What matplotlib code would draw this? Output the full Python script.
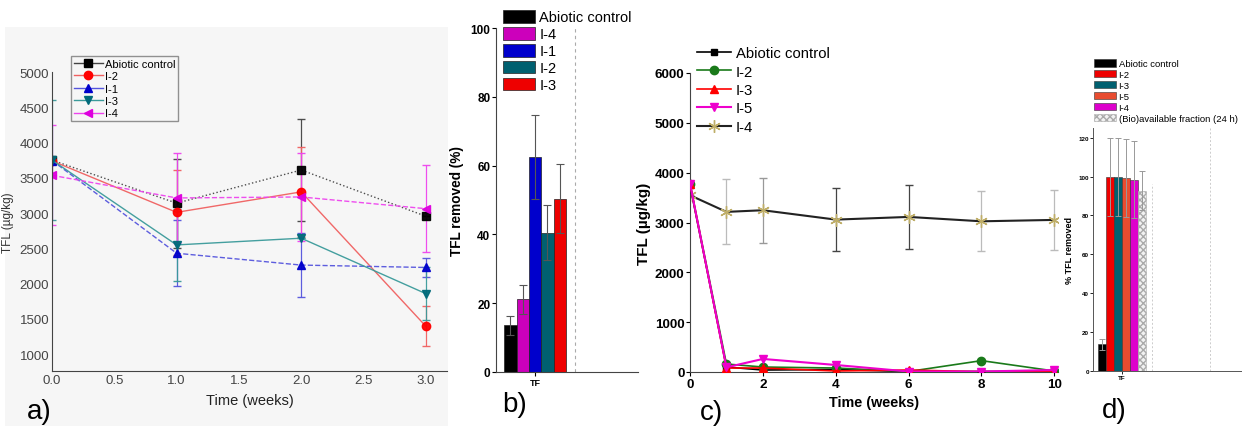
import matplotlib
matplotlib.use("Agg")
import matplotlib.pyplot as plt
from matplotlib.patches import Rectangle, Patch
from matplotlib.lines import Line2D
import numpy as np

plt.rcParams["font.family"] = ["Liberation Sans", "DejaVu Sans"]

# ---------------- Panel a data ----------------
a_time = [0.0, 1.0, 2.0, 3.0]
a_labels = ["Abiotic control", "I-2", "I-1", "I-3", "I-4"]
a_abiotic = [3750, 3140, 3610, 2955]
a_abiotic_err = [0, 630, 725, 0]
a_i2 = [3740, 3010, 3300, 1395]
a_i2_err = [0, 600, 640, 280]
a_i1 = [3745, 2430, 2262, 2228]
a_i1_err = [0, 470, 450, 130]
a_i3 = [3750, 2548, 2643, 1857]
a_i3_err = [850, 515, 0, 380]
a_i4 = [3535, 3214, 3228, 3062]
a_i4_err = [710, 640, 620, 620]

# ---------------- Panel b data ----------------
b_labels = ["Abiotic control", "I-4", "I-1", "I-2", "I-3"]
b_values = [13.6, 21.2, 62.5, 40.5, 50.4]
b_errors = [2.8, 4.2, 12.3, 8.0, 10.1]
b_category = "TF"

# ---------------- Panel c data ----------------
c_time = [0, 1, 2, 4, 6, 8, 10]
c_labels = ["Abiotic control", "I-2", "I-3", "I-5", "I-4"]
c_abiotic = [3750, 100, 40, 50, 10, 10, 10]
c_i2 = [3780, 160, 100, 80, 10, 228, 20]
c_i3 = [3780, 80, 80, 20, 40, 5, 10]
c_i5 = [3780, 94, 262, 141, 10, 10, 40]
c_i4 = [3547, 3213, 3246, 3058, 3112, 3024, 3052]
c_i4_err = [0, 650, 650, 625, 650, 605, 610]

# ---------------- Panel d data ----------------
d_labels = ["Abiotic control", "I-2", "I-3", "I-5", "I-4", "(Bio)available fraction (24 h)"]
d_values = [13.7, 99.7, 99.7, 99.3, 98.5, 92.8]
d_errors = [3.0, 20.0, 20.0, 20.0, 20.0, 10.0]
d_category = "TF"

W, H = 1242, 427
fig = plt.figure(figsize=(W / 100, H / 100), dpi=100, facecolor="white")

def rect(l, r, t, b):
    return [l / W, 1 - b / H, (r - l) / W, (b - t) / H]

# light background behind panel a
fig.patches.append(Rectangle((5 / W, 0), 443 / W, 1 - 28 / H, transform=fig.transFigure,
                             facecolor="#f6f6f6", edgecolor="none", zorder=-10))

# ================= Panel a =================
ax = fig.add_axes(rect(52, 447, 73, 372))
ax.set_facecolor("none")
series_a = [
    (a_abiotic, a_abiotic_err, "#444444", "s", ":", "black"),
    (a_i2, a_i2_err, "#f06060", "o", "-", "red"),
    (a_i1, a_i1_err, "#5555dd", "^", "--", "#0000cc"),
    (a_i3, a_i3_err, "#3a9a9a", "v", "-", "#006a7a"),
    (a_i4, a_i4_err, "#ee44ee", "<", "--", "#dd00dd"),
]
a_handles = []
for (vals, errs, lc, mk, ls, mc), lab in zip(series_a, a_labels):
    ax.errorbar(a_time, vals, yerr=errs, color=lc, marker=mk, ls=ls, lw=1.0,
                ms=6, mfc=mc, mec=mc, ecolor=lc, elinewidth=0.9, capsize=3,
                alpha=0.95)
    a_handles.append(Line2D([], [], color=lc, marker=mk, ls="-", lw=1.0, ms=6,
                            mfc=mc, mec=mc))
ax.set_xlim(0, 3.17)
ax.set_ylim(760, 5000)
ax.set_xticks([0.0, 0.5, 1.0, 1.5, 2.0, 2.5, 3.0])
ax.set_xticklabels(["0.0", "0.5", "1.0", "1.5", "2.0", "2.5", "3.0"])
ax.set_yticks([1000, 1500, 2000, 2500, 3000, 3500, 4000, 4500, 5000])
for s in ["top", "right"]:
    ax.spines[s].set_visible(False)
for s in ["left", "bottom"]:
    ax.spines[s].set_color("#444444")
ax.tick_params(labelsize=9.5, colors="#444444", length=0, pad=2)
ax.set_ylabel("TFL (µg/kg)", fontsize=8.5, color="#333333", labelpad=4)
ax.set_xlabel("Time (weeks)", fontsize=10.5, color="#222222", labelpad=5)
leg = ax.legend(a_handles, a_labels, loc="upper left", bbox_to_anchor=(0.048, 1.054),
                fontsize=8, frameon=True, fancybox=False, borderpad=0.25,
                labelspacing=0.22, handlelength=2.6, handletextpad=0.2, borderaxespad=0)
leg.get_frame().set_edgecolor("#777777")
leg.get_frame().set_facecolor("#f6f6f6")
fig.text(27 / W, 1 - 412 / H, "a)", fontsize=20, va="center", ha="left")

# ================= Panel b =================
ax = fig.add_axes(rect(496, 638, 29, 373))
b_colors = ["black", "#cc00bb", "#0000cc", "#006070", "#ee0000"]
nb = len(b_values)
bw = 0.087
xb = 0.275 + (np.arange(nb) - (nb - 1) / 2) * bw
for i in range(nb):
    ax.bar(xb[i], b_values[i], width=bw, color=b_colors[i], edgecolor="#222222",
           lw=0.5)
    ax.errorbar(xb[i], b_values[i], yerr=b_errors[i], color="#555555", lw=0.8,
                capsize=3, capthick=0.8)
ax.axvline(0.556, color="#aaaaaa", ls=(0, (3, 3)), lw=0.8)
ax.set_xlim(0, 1.0)
ax.set_ylim(0, 100)
ax.set_xticks([0.275])
ax.set_xticklabels([b_category])
ax.set_yticks([0, 20, 40, 60, 80, 100])
for s in ["top", "right"]:
    ax.spines[s].set_visible(False)
for s in ["left", "bottom"]:
    ax.spines[s].set_color("#444444")
ax.tick_params(length=3, labelsize=8.5, pad=1)
for t in ax.get_yticklabels() + ax.get_xticklabels():
    t.set_fontweight("bold")
ax.get_xticklabels()[0].set_fontsize(6.5)
ax.set_ylabel("TFL removed (%)", fontsize=9.8, fontweight="bold", labelpad=5)
handles = [Patch(facecolor=c, edgecolor="#222222", lw=0.5) for c in b_colors]
ax.legend(handles, b_labels, loc="upper left", bbox_to_anchor=(0.049, 1.052),
          fontsize=10.5, frameon=False, borderpad=0, labelspacing=0.18,
          handlelength=2.2, handleheight=0.95, handletextpad=0.3, borderaxespad=0)
fig.text(502 / W, 1 - 405 / H, "b)", fontsize=20, va="center", ha="left")

# ================= Panel c =================
ax = fig.add_axes(rect(690, 1058, 74, 373))
star = (6, 2, 0)
c_styles = [
    dict(color="black", marker="s", ms=5, lw=1.2),
    dict(color="#1a7a1a", marker="o", ms=6, lw=1.2),
    dict(color="red", marker="^", ms=6, lw=1.2),
    dict(color="#ee00cc", marker="v", ms=6, lw=1.5),
    dict(color="#222222", marker=star, ms=9, mew=1.0, mec="#bfae68", mfc="#bfae68", lw=1.5),
]
for vals, st, z in zip([c_abiotic, c_i2, c_i3, c_i5], c_styles[:4], [3, 3, 3, 4]):
    ax.plot(c_time, vals, zorder=z, **st)
ax.plot(c_time, c_i4, zorder=2, **c_styles[4])
err_shades = ["#bbbbbb", "#bbbbbb", "#999999", "#444444", "#444444", "#bbbbbb", "#bbbbbb"]
for i in range(len(c_time)):
    ax.errorbar(c_time[i], c_i4[i], yerr=c_i4_err[i], fmt="none",
                ecolor=err_shades[i], elinewidth=0.9, capsize=3, zorder=1)
ax.set_xlim(0, 10.1)
ax.set_ylim(0, 6000)
ax.set_xticks([0, 2, 4, 6, 8, 10])
ax.set_yticks([0, 1000, 2000, 3000, 4000, 5000, 6000])
for s in ["top", "right"]:
    ax.spines[s].set_visible(False)
for s in ["left", "bottom"]:
    ax.spines[s].set_color("#444444")
ax.tick_params(length=3, labelsize=9.7, pad=1)
for t in ax.get_yticklabels() + ax.get_xticklabels():
    t.set_fontweight("bold")
ax.set_ylabel("TFL (µg/kg)", fontsize=11, fontweight="bold", labelpad=3)
ax.set_xlabel("Time (weeks)", fontsize=10.4, fontweight="bold", labelpad=4)
handles = [Line2D([], [], **st) for st in c_styles]
ax.legend(handles, c_labels, loc="upper left", bbox_to_anchor=(0.019, 1.09),
          fontsize=10.7, frameon=False, borderpad=0, labelspacing=0.3,
          handlelength=2.3, handletextpad=0.3, borderaxespad=0)
fig.text(700 / W, 1 - 413 / H, "c)", fontsize=20, va="center", ha="left")

# ================= Panel d =================
ax = fig.add_axes(rect(1093, 1242, 129, 372))
d_colors = ["black", "#ee0000", "#006070", "#e84c30", "#dd00cc", "#f2f2f2"]
nd = len(d_values)
bw = 0.054
xd = 0.195 + (np.arange(nd) - (nd - 1) / 2) * bw
for i in range(nd):
    if i == nd - 1:
        ax.bar(xd[i], d_values[i], width=bw, color=d_colors[i], edgecolor="#aaaaaa",
               hatch="xxxxx", lw=0.4)
    else:
        ax.bar(xd[i], d_values[i], width=bw, color=d_colors[i], edgecolor="#333333",
               lw=0.4)
    ax.errorbar(xd[i], d_values[i], yerr=d_errors[i], color="#999999", lw=0.7,
                capsize=2, capthick=0.7)
ax.axvline(0.396, ymax=0.77, color="#cccccc", ls=(0, (2, 2)), lw=0.7)
ax.axvline(0.785, color="#cccccc", ls=(0, (2, 2)), lw=0.7)
ax.set_xlim(0, 1.0)
ax.set_ylim(0, 125)
ax.set_xticks([0.195])
ax.set_xticklabels([d_category])
ax.set_yticks([0, 20, 40, 60, 80, 100, 120])
for s in ["top", "right"]:
    ax.spines[s].set_visible(False)
for s in ["left", "bottom"]:
    ax.spines[s].set_color("#555555")
    ax.spines[s].set_linewidth(0.7)
ax.tick_params(length=2, labelsize=4.5, pad=1, width=0.6)
for t in ax.get_yticklabels() + ax.get_xticklabels():
    t.set_fontweight("bold")
ax.set_ylabel("% TFL removed", fontsize=6.5, fontweight="bold", labelpad=3)
handles = [Patch(facecolor=c, edgecolor="#333333", lw=0.4) for c in d_colors[:-1]]
handles.append(Patch(facecolor="#f2f2f2", edgecolor="#aaaaaa", hatch="xxxxx", lw=0.4))
ax.legend(handles, d_labels, loc="upper left", bbox_to_anchor=(0.007, 1.284),
          fontsize=6.8, frameon=False, borderpad=0, labelspacing=0.2,
          handlelength=2.3, handleheight=0.85, handletextpad=0.3, borderaxespad=0)
fig.text(1102 / W, 1 - 411 / H, "d)", fontsize=20, va="center", ha="left")

fig.savefig("out.png", dpi=100, facecolor="white")
